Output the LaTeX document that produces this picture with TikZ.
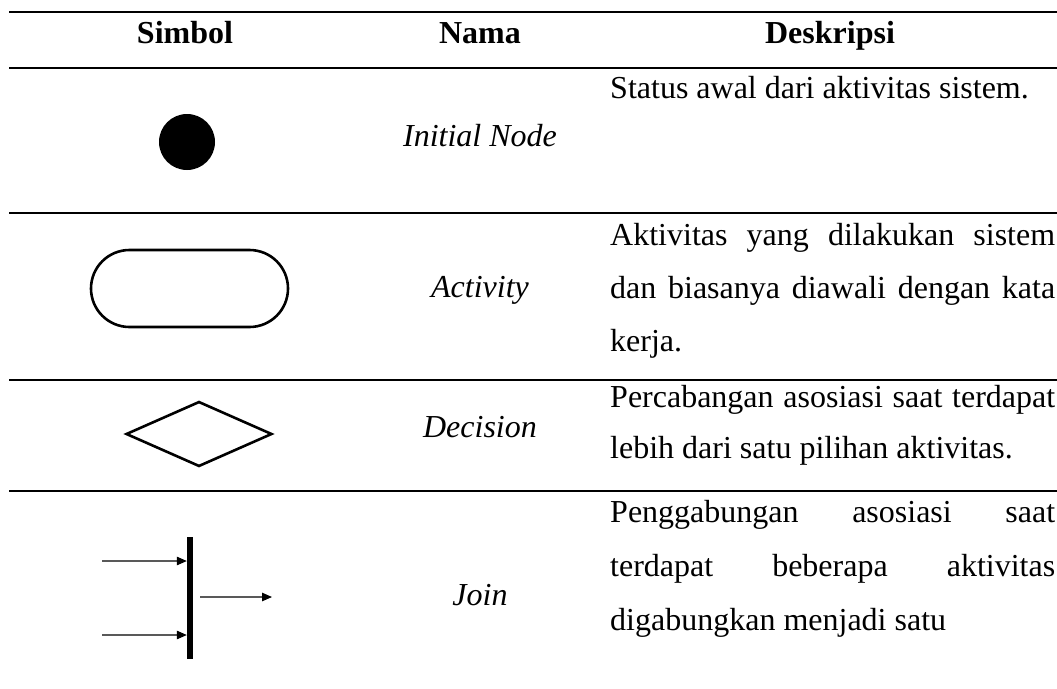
\documentclass[tikz,border=0pt]{standalone}
\usepackage{fontspec}
\setmainfont{Liberation Serif}
\usetikzlibrary{arrows.meta,shapes.geometric}

\tikzset{
  txt/.style={inner sep=0pt, font=\fontsize{32}{38}\selectfont},
  head/.style={txt, anchor=base, font=\fontsize{32}{38}\selectfont\bfseries},
  nama/.style={txt, anchor=base, font=\fontsize{32}{38}\selectfont\itshape},
  desc/.style={txt, anchor=base west},
  thickrule/.style={line width=2.6pt},
  rowrule/.style={line width=2.2pt},
  symbol/.style={draw, line width=2.6pt, inner sep=0pt},
  flow/.style={line width=1.1pt, draw=black!65,
    -{Triangle[length=10pt,width=8.5pt,color=black]}},
}

% justified line of the description column
\newcommand{\jline}[1]{\makebox[445pt][s]{#1}}

\begin{document}
\begin{tikzpicture}[x=1pt,y=-1pt]
\useasboundingbox (0,0) rectangle (1057,688);
\fill[white] (0,0) rectangle (1057,688);

% table rules
\draw[thickrule] (9,12) -- (1057,12);
\draw[thickrule] (9,68) -- (1057,68);
\draw[rowrule] (9,213) -- (1057,213);
\draw[rowrule] (9,380) -- (1057,380);
\draw[rowrule] (9,491) -- (1057,491);

% header
\node[head] (hsim) at (185,43) {Simbol};
\node[head] (hnam) at (480,43) {Nama};
\node[head] (hdes) at (830,43) {Deskripsi};

% row 1: initial node
\node[circle, fill=black, minimum size=56pt, inner sep=0pt] (init) at (187,142) {};
\node[nama] (n1) at (480,146) {Initial Node};
\node[desc] (d1) at (610,98) {Status awal dari aktivitas sistem.};

% row 2: activity
\node[symbol, rectangle, rounded corners=38.5pt, minimum width=197pt,
      minimum height=77pt] (act) at (189.5,288.5) {};
\node[nama] (n2) at (480,297) {Activity};
\node[desc] (d2a) at (610,245) {\jline{Aktivitas yang dilakukan sistem}};
\node[desc] (d2b) at (610,298) {\jline{dan biasanya diawali dengan kata}};
\node[desc] (d2c) at (610,351) {kerja.};

% row 3: decision
\node[symbol, diamond, minimum width=146pt, minimum height=65pt] (dec) at (199,434) {};
\node[nama] (n3) at (480,437) {Decision};
\node[desc] (d3a) at (610,407) {\jline{Percabangan asosiasi saat terdapat}};
\node[desc] (d3b) at (610,458) {lebih dari satu pilihan aktivitas.};

% row 4: join bar with incoming and outgoing flows
\node[fill=black, minimum width=6pt, minimum height=122pt, inner sep=0pt] (bar) at (190,598) {};
\coordinate (in1) at (102,561);
\coordinate (in2) at (102,635);
\coordinate (outs) at (200,597);
\coordinate (oute) at (272,597);
\draw[flow] (in1) -- (in1 -| bar.west);
\draw[flow] (in2) -- (in2 -| bar.west);
\draw[flow] (outs) -- (oute);
\node[nama] (n4) at (480,605) {Join};
\node[desc] (d4a) at (610,522) {\jline{Penggabungan asosiasi saat}};
\node[desc] (d4b) at (610,576) {\jline{terdapat beberapa aktivitas}};
\node[desc] (d4c) at (610,630) {digabungkan menjadi satu};
\end{tikzpicture}
\end{document}
